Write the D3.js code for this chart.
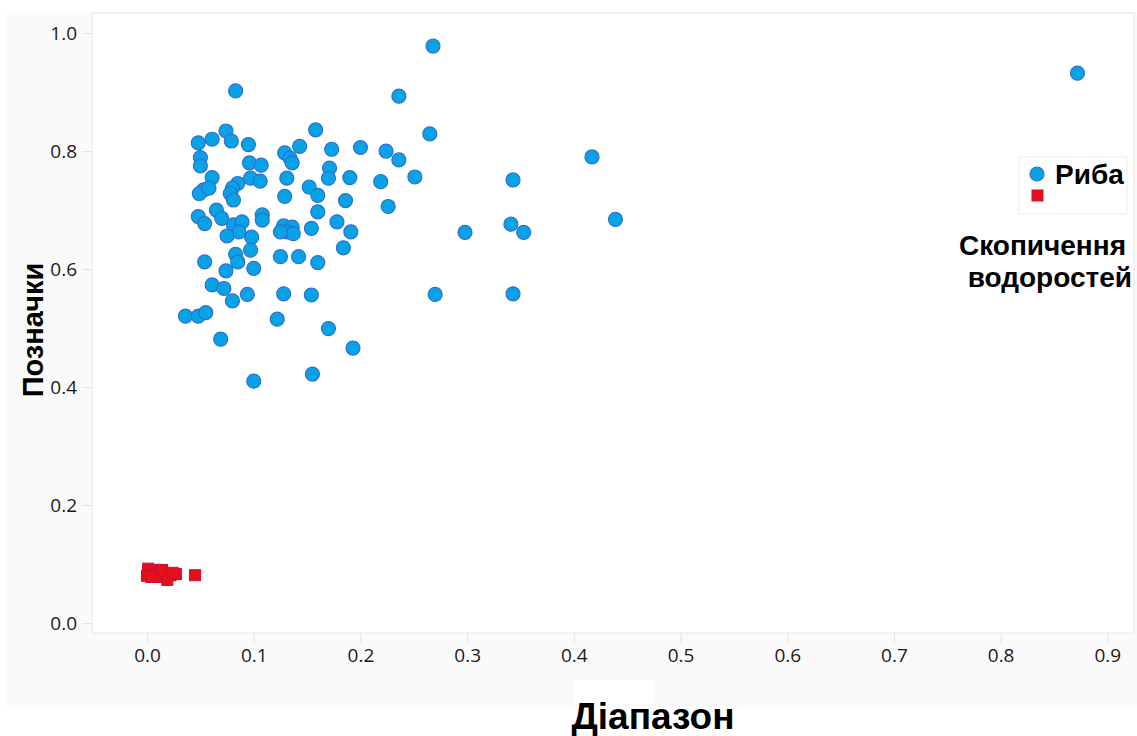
<!DOCTYPE html>
<html>
<head>
<meta charset="utf-8">
<script src="https://cdn.jsdelivr.net/npm/d3@7"></script>
<style>
  body { margin: 0; background: #ffffff; }
  .tick text { font-family: "Open Sans", sans-serif; font-size: 19px; fill: #1a1a1a; }
  .title { font-family: "Liberation Sans", Arial, sans-serif; font-weight: bold; fill: #000; }
</style>
</head>
<body>
<div id="scatterplot"></div>
<script>
// fish ("Риба") points: range vs labels
var fishX = [0.268,0.872,0.083,0.236,0.265,0.048,0.061,0.074,0.079,0.095,
  0.158,0.143,0.173,0.200,0.224,0.236,0.417,0.050,0.050,0.096,
  0.107,0.129,0.134,0.136,0.171,0.170,0.190,0.219,0.251,0.343,
  0.061,0.053,0.049,0.058,0.085,0.080,0.078,0.081,0.097,0.106,
  0.131,0.152,0.160,0.129,0.186,0.226,0.439,0.048,0.054,0.065,
  0.070,0.081,0.089,0.086,0.108,0.108,0.128,0.136,0.131,0.137,
  0.125,0.160,0.154,0.178,0.191,0.298,0.341,0.353,0.075,0.098,
  0.097,0.184,0.083,0.085,0.054,0.074,0.100,0.125,0.142,0.160,
  0.061,0.072,0.080,0.094,0.128,0.154,0.270,0.343,0.036,0.048,
  0.055,0.122,0.170,0.069,0.193,0.100,0.155];
var fishY = [0.978,0.932,0.902,0.893,0.829,0.814,0.820,0.834,0.817,0.811,
  0.836,0.808,0.803,0.806,0.800,0.785,0.790,0.789,0.775,0.780,
  0.776,0.797,0.788,0.780,0.771,0.754,0.755,0.748,0.756,0.751,
  0.755,0.734,0.728,0.737,0.745,0.737,0.728,0.717,0.754,0.749,
  0.754,0.739,0.725,0.723,0.716,0.706,0.684,0.689,0.677,0.700,
  0.686,0.675,0.680,0.663,0.692,0.683,0.673,0.671,0.663,0.660,
  0.663,0.697,0.669,0.680,0.663,0.662,0.676,0.662,0.656,0.654,
  0.632,0.636,0.625,0.612,0.612,0.597,0.601,0.621,0.621,0.611,
  0.573,0.567,0.546,0.557,0.558,0.556,0.557,0.558,0.520,0.520,
  0.526,0.515,0.499,0.481,0.466,0.410,0.422];

// algae bloom ("Скопичення водоростей") points
var algaeX = [0.001,0.005,0.000,0.008,0.012,0.010,0.017,0.022,0.027,0.019,0.004,0.014,0.045,0.024];
var algaeY = [0.092,0.086,0.080,0.090,0.086,0.078,0.083,0.081,0.083,0.073,0.078,0.090,0.081,0.085];

var xTicks = [0,0.1,0.2,0.3,0.4,0.5,0.6,0.7,0.8,0.9];
var yTicks = [0,0.2,0.4,0.6,0.8,1.0];

var fishData = d3.zip(fishX, fishY);
var algaeData = d3.zip(algaeX, algaeY);

var W = 1137, H = 736;
var plot = { left: 92, right: 1134, top: 13, bottom: 633 };

var svg = d3.select("#scatterplot")
  .append("svg")
    .attr("width", W)
    .attr("height", H);

// light grey panel behind the plot
svg.append("rect")
  .attr("x", 6).attr("y", 12)
  .attr("width", W - 6).attr("height", 695)
  .style("fill", "#fafafa");

svg.append("rect")
  .attr("x", plot.left).attr("y", plot.top)
  .attr("width", plot.right - plot.left).attr("height", plot.bottom - plot.top)
  .style("fill", "#fff")
  .style("stroke", "#e6e6e6");

// small white patch above the x title
svg.append("rect")
  .attr("x", 575).attr("y", 680)
  .attr("width", 78).attr("height", 24)
  .style("fill", "#fff");

var x = d3.scaleLinear()
  .domain([-0.0516, 0.925])
  .range([plot.left, plot.right]);

var y = d3.scaleLinear()
  .domain([-0.017, 1.034])
  .range([plot.bottom, plot.top]);

// X axis
var gx = svg.append("g")
  .attr("transform", "translate(0," + plot.bottom + ")")
  .call(d3.axisBottom(x).tickValues(xTicks).tickFormat(d3.format(".1f")).tickSize(10).tickPadding(6));
gx.select(".domain").remove();
gx.selectAll(".tick line").style("stroke", "#e2e2e2");

// Y axis
var gy = svg.append("g")
  .attr("transform", "translate(" + plot.left + ",0)")
  .call(d3.axisLeft(y).tickValues(yTicks).tickFormat(d3.format(".1f")).tickSize(10).tickPadding(5));
gy.select(".domain").remove();
gy.selectAll(".tick line").style("stroke", "#e2e2e2");

// axis titles
svg.append("text")
  .attr("class", "title")
  .attr("x", 653).attr("y", 729)
  .attr("text-anchor", "middle")
  .style("font-size", "37px")
  .text("Діапазон");

svg.append("text")
  .attr("class", "title")
  .attr("transform", "translate(43,330) rotate(-90)")
  .attr("text-anchor", "middle")
  .style("font-size", "29px")
  .text("Позначки");

// algae squares
var sq = 11;
svg.append("g")
  .selectAll("rect")
  .data(algaeData)
  .enter()
  .append("rect")
    .attr("x", function (d) { return x(d[0]) - sq / 2; })
    .attr("y", function (d) { return y(d[1]) - sq / 2; })
    .attr("width", sq)
    .attr("height", sq)
    .style("fill", "#e5101c")
    .style("stroke", "#cc1030")
    .style("stroke-width", 1);

// fish circles
svg.append("g")
  .selectAll("circle")
  .data(fishData)
  .enter()
  .append("circle")
    .attr("cx", function (d) { return x(d[0]); })
    .attr("cy", function (d) { return y(d[1]); })
    .attr("r", 7)
    .style("fill", "#08a3e4")
    .style("stroke", "#2f6ed4")
    .style("stroke-width", 1.2);

// legend
var lg = svg.append("g");
lg.append("rect")
  .attr("x", 1019).attr("y", 157)
  .attr("width", 108).attr("height", 57)
  .style("fill", "#fff")
  .style("stroke", "#ececec");
lg.append("circle")
  .attr("cx", 1037).attr("cy", 174).attr("r", 7)
  .style("fill", "#08a3e4").style("stroke", "#2f6ed4").style("stroke-width", 1.2);
lg.append("rect")
  .attr("x", 1032).attr("y", 190).attr("width", sq).attr("height", sq)
  .style("fill", "#e5101c").style("stroke", "#cc1030");
lg.append("text")
  .attr("class", "title")
  .attr("x", 1055).attr("y", 184)
  .style("font-size", "28px")
  .text("Риба");
lg.append("text")
  .attr("class", "title")
  .attr("x", 1126).attr("y", 255)
  .attr("text-anchor", "end")
  .style("font-size", "28px")
  .text("Скопичення");
lg.append("text")
  .attr("class", "title")
  .attr("x", 1132).attr("y", 287)
  .attr("text-anchor", "end")
  .style("font-size", "28px")
  .text("водоростей");
</script>
</body>
</html>
